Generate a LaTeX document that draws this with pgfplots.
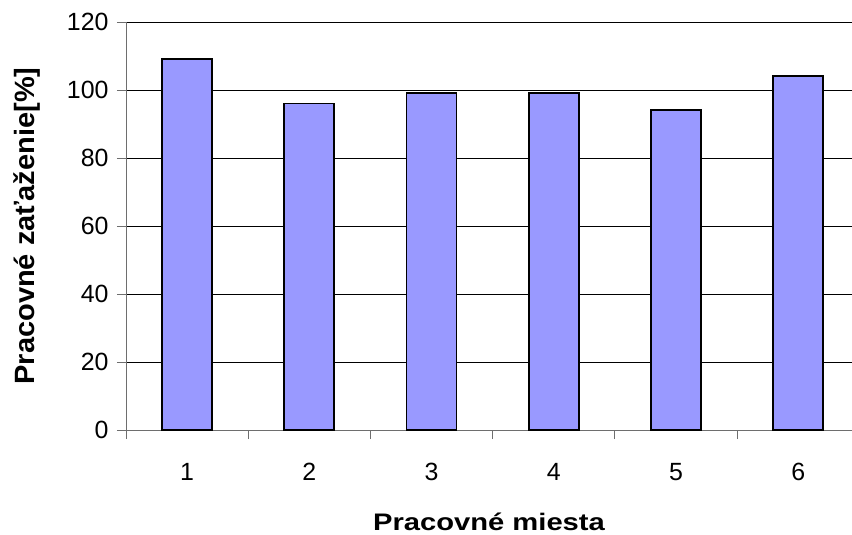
\documentclass[border=0pt]{standalone}
\usepackage{pgfplots}
\pgfplotsset{compat=1.18}
\usepackage{fontspec}
\setmainfont{Liberation Sans}
\definecolor{barfill}{RGB}{153,153,255}
\definecolor{axisgray}{RGB}{110,110,110}
\begin{document}
\begin{tikzpicture}
\begin{axis}[
  at={(0,0)}, anchor=south west,
  scale only axis, width=726bp, height=408bp,
  xmin=0.5, xmax=6.44, ymin=0, ymax=120,
  axis x line*=bottom, axis y line*=left,
  axis line style={axisgray, line width=0.9bp},
  ytick={0,20,...,120},
  yticklabels={0,20,40,60,80,100,120},
  ymajorgrids, grid style={black, line width=0.9bp},
  xtick={0.5,1.5,...,5.5}, xticklabels={},
  extra x ticks={1,2,3,4,5,6},
  extra x tick labels={1,2,3,4,5,6},
  extra x tick style={major tick length=0pt, grid=none},
  tick align=outside, major tick length=9bp,
  tick style={axisgray, line width=0.9bp},
  ticklabel style={font=\fontsize{25}{30}\selectfont},
  y tick label style={xshift=-5bp},
  x tick label style={anchor=north, text height=18bp, text depth=0pt, yshift=-29bp},
  xlabel={\scalebox{1.22}[1]{Pracovné miesta}},
  ylabel={\scalebox{1.04}[1]{Pracovné zaťaženie[\%]}},
  xlabel style={font=\bfseries\fontsize{24}{29}\selectfont, inner sep=1bp, yshift=-10bp},
  ylabel style={font=\bfseries\fontsize{28}{33}\selectfont, yshift=20bp},
]
\addplot[ybar, bar width=50bp, fill=barfill, draw=black, line width=1.8bp]
  coordinates {(1,109) (2,96) (3,99) (4,99) (5,94) (6,104)};
\end{axis}
\pgfresetboundingbox
\useasboundingbox (-126bp,-105bp) rectangle (726bp,430bp);
\end{tikzpicture}
\end{document}
